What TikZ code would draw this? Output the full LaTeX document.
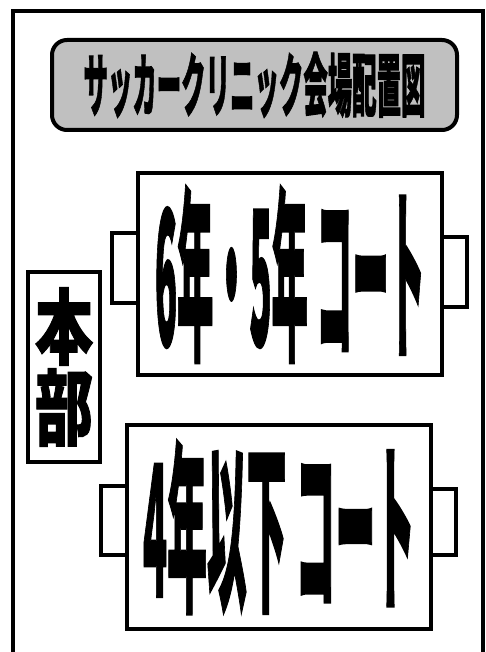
\documentclass[tikz,border=0pt]{standalone}
\usepackage{fontspec}
\usepackage{graphicx}
\newfontfamily\cjk[BoldFeatures={FakeBold=1.5}]{Noto Sans CJK JP}
\usetikzlibrary{positioning}
\definecolor{PlanGray}{HTML}{C0C0C0}

\begin{document}
\begin{tikzpicture}[x=1pt,y=-1pt,
    court/.style={draw,line width=4pt,fill=white,inner sep=0pt},
    courttab/.style={draw,line width=3.5pt,fill=white,inner sep=0pt,
      minimum width=26pt,minimum height=70pt},
    bigtext/.style={font=\cjk\bfseries}]
  \useasboundingbox (0,0) rectangle (486,652);
  \draw[line width=4pt] (13,670) -- (13,11) -- (483,11) -- (483,670);
  \node[draw,line width=4pt,fill=PlanGray,rounded corners=15pt,
    minimum width=405pt,minimum height=90pt,bigtext] (title) at (254.5,85)
    {\resizebox{342pt}{59pt}{サッカークリニック会場配置図}};
  % upper court
  \node[courttab] (tabAl) at (125,268) {};
  \node[courttab,minimum width=25pt] (tabAr) at (454.5,272) {};
  \node[court,minimum width=304pt,minimum height=202pt,bigtext] (courtA) at (290,274)
    {\resizebox{270pt}{160pt}{6年・5年 コート}};
  % head office
  \node[draw,line width=4pt,fill=white,inner sep=0pt,minimum width=72pt,
    minimum height=190pt,bigtext] (honbu) at (64,367)
    {\shortstack{\resizebox{58pt}{70pt}{本}\\\resizebox{58pt}{70pt}{部}}};
  % lower court
  \node[courttab,minimum height=69pt] (tabBl) at (114,520.5) {};
  \node[courttab,minimum width=25pt,minimum height=66pt] (tabBr) at (443.5,522) {};
  \node[court,minimum width=304pt,minimum height=204pt,bigtext] (courtB) at (279,527)
    {\resizebox{272pt}{157pt}{4年以下 コート}};
\end{tikzpicture}
\end{document}
